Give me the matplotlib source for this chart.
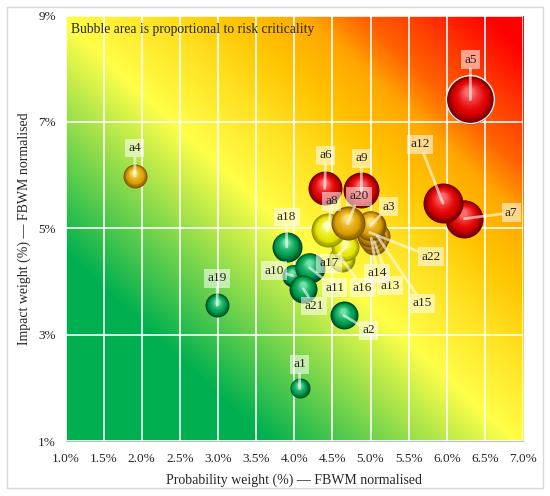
import numpy as np
import matplotlib.pyplot as plt
from matplotlib.colors import LinearSegmentedColormap, to_rgb
from matplotlib.patches import Rectangle

plt.rcParams['font.family'] = ['Liberation Serif', 'DejaVu Serif']

# risks in drawing order (back to front)
risks = ['a6', 'a9', 'a16', 'a17', 'a15', 'a13', 'a14', 'a22', 'a3', 'a8', 'a20',
         'a7', 'a12', 'a10', 'a11', 'a21', 'a18', 'a2', 'a1', 'a19', 'a4', 'a5']
prob = [4.40, 4.88, 4.62, 4.67, 5.09, 5.05, 5.01, 4.99, 5.00, 4.44, 4.70,
        6.23, 5.95, 3.98, 4.20, 4.12, 3.90, 4.65, 4.07, 2.99, 1.91, 6.31]
impact = [5.75, 5.71, 4.43, 4.64, 4.85, 4.75, 4.81, 4.92, 5.05, 4.96, 5.09,
          5.18, 5.47, 4.11, 4.26, 3.86, 4.65, 3.36, 1.99, 3.55, 5.98, 7.42]
crit = [2.89, 3.24, 1.69, 1.96, 1.69, 1.69, 1.69, 1.96, 2.25, 2.89, 2.89,
        3.61, 4.00, 1.21, 2.25, 1.96, 2.25, 1.96, 1.00, 1.44, 1.44, 5.76]
level = ['red', 'red', 'yellow', 'yellow', 'orange', 'orange', 'orange', 'orange',
         'orange', 'yellow', 'orange', 'red', 'red', 'green', 'green', 'green',
         'green', 'green', 'green', 'green', 'orange', 'red']

# label offsets from bubble centre, in pixels
label_off = {
    'a1': (0, 24), 'a2': (25, -15), 'a3': (18, 19), 'a4': (0, 28), 'a5': (0, 40),
    'a6': (1, 33), 'a7': (47, 6), 'a8': (4, 29), 'a9': (0, 32), 'a10': (-19, 5),
    'a11': (25, -20), 'a12': (-23, 59), 'a13': (16, -44), 'a14': (6, -35),
    'a15': (45, -67), 'a16': (21, -29), 'a17': (-16, -16), 'a18': (0, 30),
    'a19': (0, 27), 'a20': (11, 27), 'a21': (11, -17), 'a22': (61, -24),
}

# sphere shading: dark rim, body, highlight
shades = {
    'red': ('#6e0000', '#e00000', '#ff6a6a'),
    'orange': ('#7d5200', '#dca000', '#ffe070'),
    'yellow': ('#8f8f00', '#e6e600', '#ffffa0'),
    'green': ('#004522', '#00a050', '#6fe0a6'),
}

W, H, DPI = 5.5, 4.96, 100
fig = plt.figure(figsize=(W, H), dpi=DPI)
ax = fig.add_axes([65.5 / 550, 1 - 441 / 496, (523 - 65.5) / 550, (441 - 15.5) / 496])
x0, x1, y0, y1 = 1.0, 7.0, 1.0, 9.0
ax.set_xlim(x0, x1)
ax.set_ylim(y0, y1)

# background gradient green -> yellow -> red along the diagonal
cmap = LinearSegmentedColormap.from_list('risk', [
    (0.0, '#00b050'), (0.22, '#00b050'), (0.49, '#ffff48'), (0.6, '#ffe020'),
    (0.68, '#ffc400'), (0.76, '#ffa800'), (0.82, '#ff6400'), (0.88, '#ff3c00'),
    (0.96, '#ff0000'), (1.0, '#ff0000')])
u, v = np.meshgrid(np.linspace(0, 1, 400), np.linspace(0, 1, 400))
ax.imshow((u + v) / 2, cmap=cmap, vmin=0, vmax=1, origin='lower',
          extent=(x0, x1, y0, y1), aspect='auto', zorder=0, interpolation='bilinear')

ax.set_xticks(np.arange(1.0, 7.01, 0.5))
ax.set_yticks([1, 3, 5, 7, 9])
ax.set_xticklabels(['%.1f%%' % t for t in np.arange(1.0, 7.01, 0.5)])
ax.set_yticklabels(['%d%%' % t for t in [1, 3, 5, 7, 9]])
ax.grid(True, color='white', lw=1.3, alpha=0.9, zorder=1)
ax.set_axisbelow(False)
ax.tick_params(length=0, labelsize=9.5, colors='#262626')
ax.tick_params(axis='x', pad=9)
ax.tick_params(axis='y', pad=7)
for s in ['top', 'right', 'left']:
    ax.spines[s].set_visible(False)
ax.spines['bottom'].set_color('#bfbfbf')

# pixel -> data conversion for the sphere shading
ax_w = (523 - 65.5)
ax_h = (441 - 15.5)
dxp = (x1 - x0) / ax_w
dyp = (y1 - y0) / ax_h


def blend(c1, c2, f):
    a, b = np.array(to_rgb(c1)), np.array(to_rgb(c2))
    return tuple(a + (b - a) * f)


N = 16
z = 10
for name, x, y, c, lv in zip(risks, prob, impact, crit, level):
    r = 10 * np.sqrt(c)  # radius in pixels, area ~ criticality
    dark, mid, light = shades[lv]
    for k in range(N):
        f = k / (N - 1)
        rr = r * (1 - 0.8 * f)
        if f < 0.35:
            col = blend(dark, mid, f / 0.35)
        else:
            col = blend(mid, light, ((f - 0.35) / 0.65) ** 1.5)
        xx = x - 0.05 * r * f * dxp
        yy = y + 0.32 * r * f * dyp
        d = 2 * rr * 72 / DPI
        ax.scatter([xx], [yy], s=d ** 2, color=[col], linewidths=0, zorder=z)
        z += 1
    if name == 'a5':
        ax.scatter([x], [y], s=(2 * r * 72 / DPI) ** 2, facecolors='none',
                   edgecolors='#f2f2f2', linewidths=1.0, zorder=z)
        z += 1

for name, x, y in zip(risks, prob, impact):
    ax.annotate(name, xy=(x, y), xytext=label_off[name], textcoords='offset pixels',
                ha='center', va='center', fontsize=9.5, color='#262626',
                bbox=dict(boxstyle='square,pad=0.25', fc='white', ec='none', alpha=0.55),
                arrowprops=dict(arrowstyle='-', color='white', alpha=0.6, lw=2,
                                shrinkA=0, shrinkB=0),
                zorder=z + 10)

ax.text(0.013, 0.968, 'Bubble area is proportional to risk criticality',
        transform=ax.transAxes, ha='left', va='center', fontsize=9.8, color='#262626',
        zorder=z + 20)

ax.set_xlabel('Probability weight (%) \u2014 FBWM normalised', fontsize=10, color='#262626',
              labelpad=6)
ax.set_ylabel('Impact weight (%) \u2014 FBWM normalised', fontsize=10, color='#262626',
              labelpad=5)

fig.patches.append(Rectangle((7 / 550, 1 - 488 / 496), (543 - 7) / 550, (488 - 7) / 496,
                             transform=fig.transFigure, fill=False, ec='#d9d9d9', lw=1))

fig.savefig('out.png', dpi=DPI)
